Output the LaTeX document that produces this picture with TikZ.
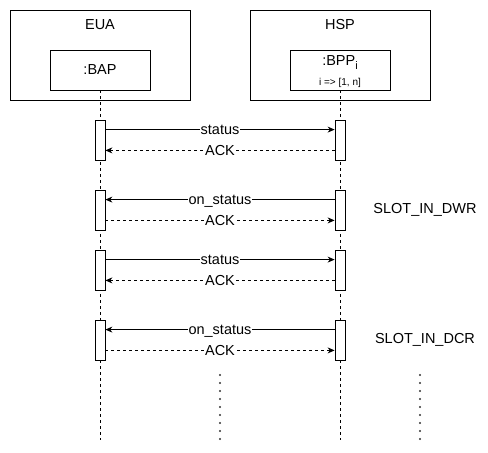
\documentclass[tikz,border=0pt]{standalone}
\usepackage{fontspec}
\setmainfont{Liberation Sans}
\usetikzlibrary{arrows.meta}
\begin{document}
\begin{tikzpicture}[x=1pt,y=-1pt,
  font=\fontsize{14.5}{17}\selectfont,
  line width=0.8pt,
  frame/.style={draw, minimum width=180pt, minimum height=90pt, inner sep=0pt},
  obj/.style={draw, fill=white, minimum width=100pt, minimum height=40pt, inner sep=0pt},
  act/.style={draw, fill=white, minimum width=10pt, minimum height=40pt, inner sep=0pt},
  lifeline/.style={dash pattern=on 3pt off 3pt},
  msg/.style={-{Stealth[length=7pt,width=6pt]}},
  reply/.style={msg, dash pattern=on 3pt off 3pt},
  lbl/.style={fill=white, inner sep=1pt, text height=10.5pt, text depth=0pt},
  dotcol/.style={fill=black!80}]
\useasboundingbox (0,0) rectangle (488,453);
% frames
\node[frame] (eua) at (100,55) {};
\node (euat) at (100,25) {EUA};
\node[frame] (hsp) at (340,55) {};
\node (hspt) at (340,25) {HSP};
% lifeline ends
\coordinate (bapend) at (100,440);
\coordinate (bppend) at (340,440);
\draw[lifeline, line width=0.6pt] (100,90) -- (bapend);
\draw[lifeline, line width=0.6pt] (340,90) -- (bppend);
% objects
\node[obj] (bap) at (100,70) {:BAP};
\node[obj] (bpp) at (340,70) {};
\node (bppt) at (340,63) {:BPP\raisebox{-4pt}{\fontsize{11}{12}\selectfont i}};
\node[font=\fontsize{10}{11}\selectfont] (bppi) at (340,83) {i => [1, n]};
% activations
\node[act] (a1) at (100,140) {};
\node[act] (b1) at (340,140) {};
\node[act] (a2) at (100,210) {};
\node[act] (b2) at (340,210) {};
\node[act] (a3) at (100,270) {};
\node[act] (b3) at (340,270) {};
\node[act] (a4) at (100,340) {};
\node[act] (b4) at (340,340) {};
% messages
\draw[msg] ([yshift=-10pt]a1.north east) -- node[lbl]{status} ([yshift=-10pt]b1.north west);
\draw[reply] ([yshift=10pt]b1.south west) -- node[lbl]{ACK} ([yshift=10pt]a1.south east);
\draw[msg] ([yshift=-10pt]b2.north west) -- node[lbl]{on\_status} ([yshift=-10pt]a2.north east);
\draw[reply] ([yshift=10pt]a2.south east) -- node[lbl]{ACK} ([yshift=10pt]b2.south west);
\draw[msg] ([yshift=-10pt]a3.north east) -- node[lbl]{status} ([yshift=-10pt]b3.north west);
\draw[reply] ([yshift=10pt]b3.south west) -- node[lbl]{ACK} ([yshift=10pt]a3.south east);
\draw[msg] ([yshift=-10pt]b4.north west) -- node[lbl]{on\_status} ([yshift=-10pt]a4.north east);
\draw[reply] ([yshift=10pt]a4.south east) -- node[lbl]{ACK} ([yshift=10pt]b4.south west);
% slot labels
\node (dwr) at (425,210) {SLOT\_IN\_DWR};
\node (dcr) at (425,340) {SLOT\_IN\_DCR};
% continuation dots
\foreach \i in {0,...,8} {
  \fill[dotcol] (220,375+8*\i) circle (1.2pt);
  \fill[dotcol] (420,375+8*\i) circle (1.2pt);
}
\end{tikzpicture}
\end{document}
